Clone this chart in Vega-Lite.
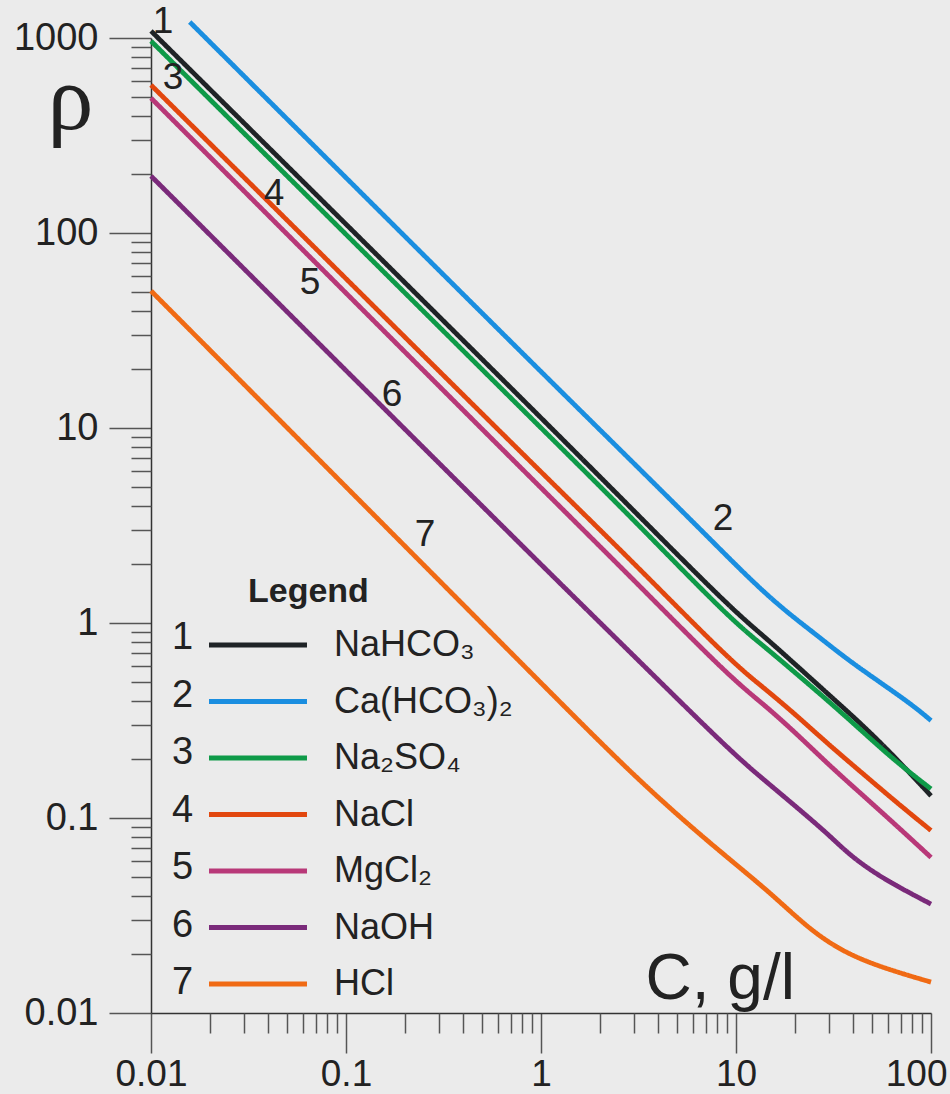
{
  "$schema": "https://vega.github.io/schema/vega-lite/v6.json",
  "autosize": "none",
  "padding": {"left": 151, "top": 38, "right": 19, "bottom": 81},
  "width": 780,
  "height": 975,
  "background": "#ebebeb",
  "config": {"view": {"stroke": null}, "font": "Liberation Sans"},
  "resolve": {"axis": {"x": "independent", "y": "independent"}},
  "datasets": {
    "curves": [
      {"compound": "NaHCO₃", "num": "1", "C": 0.01, "rho": 1087},
      {"compound": "NaHCO₃", "num": "1", "C": 0.1, "rho": 111},
      {"compound": "NaHCO₃", "num": "1", "C": 1, "rho": 11.3},
      {"compound": "NaHCO₃", "num": "1", "C": 2.86, "rho": 3.94},
      {"compound": "NaHCO₃", "num": "1", "C": 9.31, "rho": 1.2},
      {"compound": "NaHCO₃", "num": "1", "C": 13.8, "rho": 0.861},
      {"compound": "NaHCO₃", "num": "1", "C": 20.5, "rho": 0.604},
      {"compound": "NaHCO₃", "num": "1", "C": 30.3, "rho": 0.424},
      {"compound": "NaHCO₃", "num": "1", "C": 45, "rho": 0.297},
      {"compound": "NaHCO₃", "num": "1", "C": 66.7, "rho": 0.201},
      {"compound": "NaHCO₃", "num": "1", "C": 100, "rho": 0.13},

      {"compound": "Ca(HCO₃)₂", "num": "2", "C": 0.0158, "rho": 1208},
      {"compound": "Ca(HCO₃)₂", "num": "2", "C": 0.1, "rho": 192},
      {"compound": "Ca(HCO₃)₂", "num": "2", "C": 1, "rho": 19.4},
      {"compound": "Ca(HCO₃)₂", "num": "2", "C": 3.62, "rho": 5.47},
      {"compound": "Ca(HCO₃)₂", "num": "2", "C": 7.62, "rho": 2.6},
      {"compound": "Ca(HCO₃)₂", "num": "2", "C": 14.9, "rho": 1.33},
      {"compound": "Ca(HCO₃)₂", "num": "2", "C": 24.9, "rho": 0.895},
      {"compound": "Ca(HCO₃)₂", "num": "2", "C": 37, "rho": 0.653},
      {"compound": "Ca(HCO₃)₂", "num": "2", "C": 54.7, "rho": 0.497},
      {"compound": "Ca(HCO₃)₂", "num": "2", "C": 81.1, "rho": 0.377},
      {"compound": "Ca(HCO₃)₂", "num": "2", "C": 100, "rho": 0.316},

      {"compound": "Na₂SO₄", "num": "3", "C": 0.01, "rho": 965},
      {"compound": "Na₂SO₄", "num": "3", "C": 0.1, "rho": 98.4},
      {"compound": "Na₂SO₄", "num": "3", "C": 1, "rho": 10.0},
      {"compound": "Na₂SO₄", "num": "3", "C": 2.86, "rho": 3.54},
      {"compound": "Na₂SO₄", "num": "3", "C": 9.31, "rho": 1.05},
      {"compound": "Na₂SO₄", "num": "3", "C": 13.8, "rho": 0.766},
      {"compound": "Na₂SO₄", "num": "3", "C": 20.5, "rho": 0.547},
      {"compound": "Na₂SO₄", "num": "3", "C": 30.3, "rho": 0.392},
      {"compound": "Na₂SO₄", "num": "3", "C": 45, "rho": 0.275},
      {"compound": "Na₂SO₄", "num": "3", "C": 66.7, "rho": 0.193},
      {"compound": "Na₂SO₄", "num": "3", "C": 100, "rho": 0.141},

      {"compound": "NaCl", "num": "4", "C": 0.01, "rho": 574},
      {"compound": "NaCl", "num": "4", "C": 0.1, "rho": 58.3},
      {"compound": "NaCl", "num": "4", "C": 1, "rho": 5.93},
      {"compound": "NaCl", "num": "4", "C": 2.86, "rho": 2.13},
      {"compound": "NaCl", "num": "4", "C": 9.31, "rho": 0.641},
      {"compound": "NaCl", "num": "4", "C": 13.8, "rho": 0.468},
      {"compound": "NaCl", "num": "4", "C": 20.5, "rho": 0.335},
      {"compound": "NaCl", "num": "4", "C": 30.3, "rho": 0.235},
      {"compound": "NaCl", "num": "4", "C": 45, "rho": 0.168},
      {"compound": "NaCl", "num": "4", "C": 66.7, "rho": 0.12},
      {"compound": "NaCl", "num": "4", "C": 100, "rho": 0.0863},

      {"compound": "MgCl₂", "num": "5", "C": 0.01, "rho": 492},
      {"compound": "MgCl₂", "num": "5", "C": 0.1, "rho": 49.2},
      {"compound": "MgCl₂", "num": "5", "C": 1, "rho": 4.92},
      {"compound": "MgCl₂", "num": "5", "C": 2.86, "rho": 1.74},
      {"compound": "MgCl₂", "num": "5", "C": 9.31, "rho": 0.526},
      {"compound": "MgCl₂", "num": "5", "C": 13.8, "rho": 0.385},
      {"compound": "MgCl₂", "num": "5", "C": 20.5, "rho": 0.27},
      {"compound": "MgCl₂", "num": "5", "C": 30.3, "rho": 0.185},
      {"compound": "MgCl₂", "num": "5", "C": 45, "rho": 0.13},
      {"compound": "MgCl₂", "num": "5", "C": 66.7, "rho": 0.0912},
      {"compound": "MgCl₂", "num": "5", "C": 100, "rho": 0.0628},

      {"compound": "NaOH", "num": "6", "C": 0.01, "rho": 196},
      {"compound": "NaOH", "num": "6", "C": 0.1, "rho": 19.7},
      {"compound": "NaOH", "num": "6", "C": 1, "rho": 1.99},
      {"compound": "NaOH", "num": "6", "C": 2.86, "rho": 0.71},
      {"compound": "NaOH", "num": "6", "C": 9.31, "rho": 0.221},
      {"compound": "NaOH", "num": "6", "C": 13.8, "rho": 0.158},
      {"compound": "NaOH", "num": "6", "C": 20.5, "rho": 0.1135},
      {"compound": "NaOH", "num": "6", "C": 30.3, "rho": 0.0811},
      {"compound": "NaOH", "num": "6", "C": 38.5, "rho": 0.0641},
      {"compound": "NaOH", "num": "6", "C": 56.9, "rho": 0.0486},
      {"compound": "NaOH", "num": "6", "C": 100, "rho": 0.0362},

      {"compound": "HCl", "num": "7", "C": 0.01, "rho": 50.5},
      {"compound": "HCl", "num": "7", "C": 0.1, "rho": 4.99},
      {"compound": "HCl", "num": "7", "C": 1, "rho": 0.493},
      {"compound": "HCl", "num": "7", "C": 3.1, "rho": 0.158},
      {"compound": "HCl", "num": "7", "C": 7.62, "rho": 0.0718},
      {"compound": "HCl", "num": "7", "C": 14.9, "rho": 0.0418},
      {"compound": "HCl", "num": "7", "C": 24.5, "rho": 0.026},
      {"compound": "HCl", "num": "7", "C": 39.4, "rho": 0.0194},
      {"compound": "HCl", "num": "7", "C": 67, "rho": 0.0162},
      {"compound": "HCl", "num": "7", "C": 100, "rho": 0.0144}
    ],
    "labels": [
      {"t": "1", "C": 0.01153, "rho": 1207},
      {"t": "2", "C": 8.57, "rho": 3.41},
      {"t": "3", "C": 0.01297, "rho": 624},
      {"t": "4", "C": 0.04276, "rho": 158.5},
      {"t": "5", "C": 0.0653, "rho": 55.4},
      {"t": "6", "C": 0.1722, "rho": 14.8},
      {"t": "7", "C": 0.254, "rho": 2.83}
    ]
  },
  "layer": [
    {
      "data": {"name": "curves"},
      "mark": {"type": "line", "strokeWidth": 4.8, "clip": false, "strokeCap": "butt", "interpolate": "basis"},
      "encoding": {
        "x": {
          "field": "C", "type": "quantitative",
          "scale": {"type": "log", "domain": [0.01, 100], "nice": false},
          "axis": {
            "orient": "bottom",
            "values": [0.01, 0.1, 1, 10, 100],
            "format": "~g",
            "tickSize": 40,
            "grid": false,
            "labelOverlap": false,
            "labelFlush": false,
            "labelFont": "Liberation Sans",
            "labelFontSize": 37,
            "labelColor": "#222222",
            "labelPadding": 3,
            "labelAlign": {"condition": {"test": "datum.value == 100", "value": "right"}, "value": "center"},
            "labelOffset": {"condition": {"test": "datum.value == 100", "value": 16}, "value": 0},
            "domainColor": "#333333",
            "domainWidth": 1.5,
            "tickColor": "#555555",
            "tickWidth": 1.5,
            "title": "C, g/l",
            "titleFont": "Liberation Sans",
            "titleFontSize": 64,
            "titleFontWeight": "normal",
            "titleColor": "#222222",
            "titleAlign": "left",
            "titleBaseline": "alphabetic",
            "titleX": 494,
            "titleY": -15
          }
        },
        "y": {
          "field": "rho", "type": "quantitative",
          "scale": {"type": "log", "domain": [0.01, 1000], "nice": false},
          "axis": {
            "orient": "left",
            "values": [0.01, 0.1, 1, 10, 100, 1000],
            "format": "~g",
            "tickSize": 42,
            "grid": false,
            "labelOverlap": false,
            "labelFlush": false,
            "labelFont": "Liberation Sans",
            "labelFontSize": 38,
            "labelColor": "#222222",
            "labelPadding": 11,
            "domainColor": "#333333",
            "domainWidth": 1.5,
            "tickColor": "#555555",
            "tickWidth": 1.5,
            "title": "ρ",
            "titleFont": "Liberation Serif",
            "titleFontSize": 92,
            "titleFontWeight": "normal",
            "titleColor": "#222222",
            "titleAngle": 0,
            "titleAlign": "center",
            "titleBaseline": "alphabetic",
            "titleX": -81,
            "titleY": 90
          }
        },
        "color": {
          "field": "compound", "type": "nominal",
          "scale": {
            "domain": ["NaHCO₃", "Ca(HCO₃)₂", "Na₂SO₄", "NaCl", "MgCl₂", "NaOH", "HCl"],
            "range": ["#1f2326", "#1a8ee0", "#0e9a48", "#e2470e", "#b83878", "#7a2a7a", "#f06a14"]
          },
          "legend": {
            "orient": "none",
            "legendX": 97,
            "legendY": 537,
            "title": "Legend",
            "titleFont": "Liberation Sans",
            "titleFontSize": 34,
            "titleFontWeight": "bold",
            "titleColor": "#222222",
            "titleAnchor": "start",
            "titlePadding": 18,
            "symbolType": "M-5,0H5",
            "symbolSize": 384,
            "symbolStrokeWidth": 5,
            "symbolOffset": -8,
            "labelFont": "Liberation Sans",
            "labelFontSize": 36,
            "labelColor": "#222222",
            "labelOffset": 58,
            "rowPadding": 20.5,
            "labelLimit": 400
          }
        },
        "strokeDash": {
          "field": "num", "type": "nominal",
          "scale": {
            "domain": ["1", "2", "3", "4", "5", "6", "7"],
            "range": [[1, 0], [1, 0], [1, 0], [1, 0], [1, 0], [1, 0], [1, 0]]
          },
          "legend": {
            "orient": "none",
            "legendX": -17,
            "legendY": 581,
            "title": null,
            "symbolSize": 0,
            "symbolOpacity": 0,
            "symbolStrokeWidth": 0,
            "labelFont": "Liberation Sans",
            "labelFontSize": 38,
            "labelColor": "#222222",
            "labelOffset": 0,
            "rowPadding": 19.5
          }
        }
      }
    },
    {
      "data": {"name": "labels"},
      "mark": {"type": "text", "fontSize": 37, "font": "Liberation Sans", "color": "#222222", "align": "center", "baseline": "middle", "clip": false},
      "encoding": {
        "x": {
          "field": "C", "type": "quantitative",
          "scale": {"type": "log", "domain": [0.01, 100], "nice": false},
          "axis": {
            "orient": "bottom",
            "values": [0.02,0.03,0.04,0.05,0.06,0.07,0.08,0.09,0.2,0.3,0.4,0.5,0.6,0.7,0.8,0.9,2,3,4,5,6,7,8,9,20,30,40,50,60,70,80,90],
            "labels": false,
            "domain": false,
            "grid": false,
            "tickSize": 20,
            "tickColor": "#555555",
            "tickWidth": 1.5,
            "title": null
          }
        },
        "y": {
          "field": "rho", "type": "quantitative",
          "scale": {"type": "log", "domain": [0.01, 1000], "nice": false},
          "axis": {
            "orient": "left",
            "values": [0.02,0.03,0.04,0.05,0.06,0.07,0.08,0.09,0.2,0.3,0.4,0.5,0.6,0.7,0.8,0.9,2,3,4,5,6,7,8,9,20,30,40,50,60,70,80,90,200,300,400,500,600,700,800,900],
            "labels": false,
            "domain": false,
            "grid": false,
            "tickSize": 20,
            "tickColor": "#555555",
            "tickWidth": 1.5,
            "title": null
          }
        },
        "text": {"field": "t"}
      }
    }
  ]
}
